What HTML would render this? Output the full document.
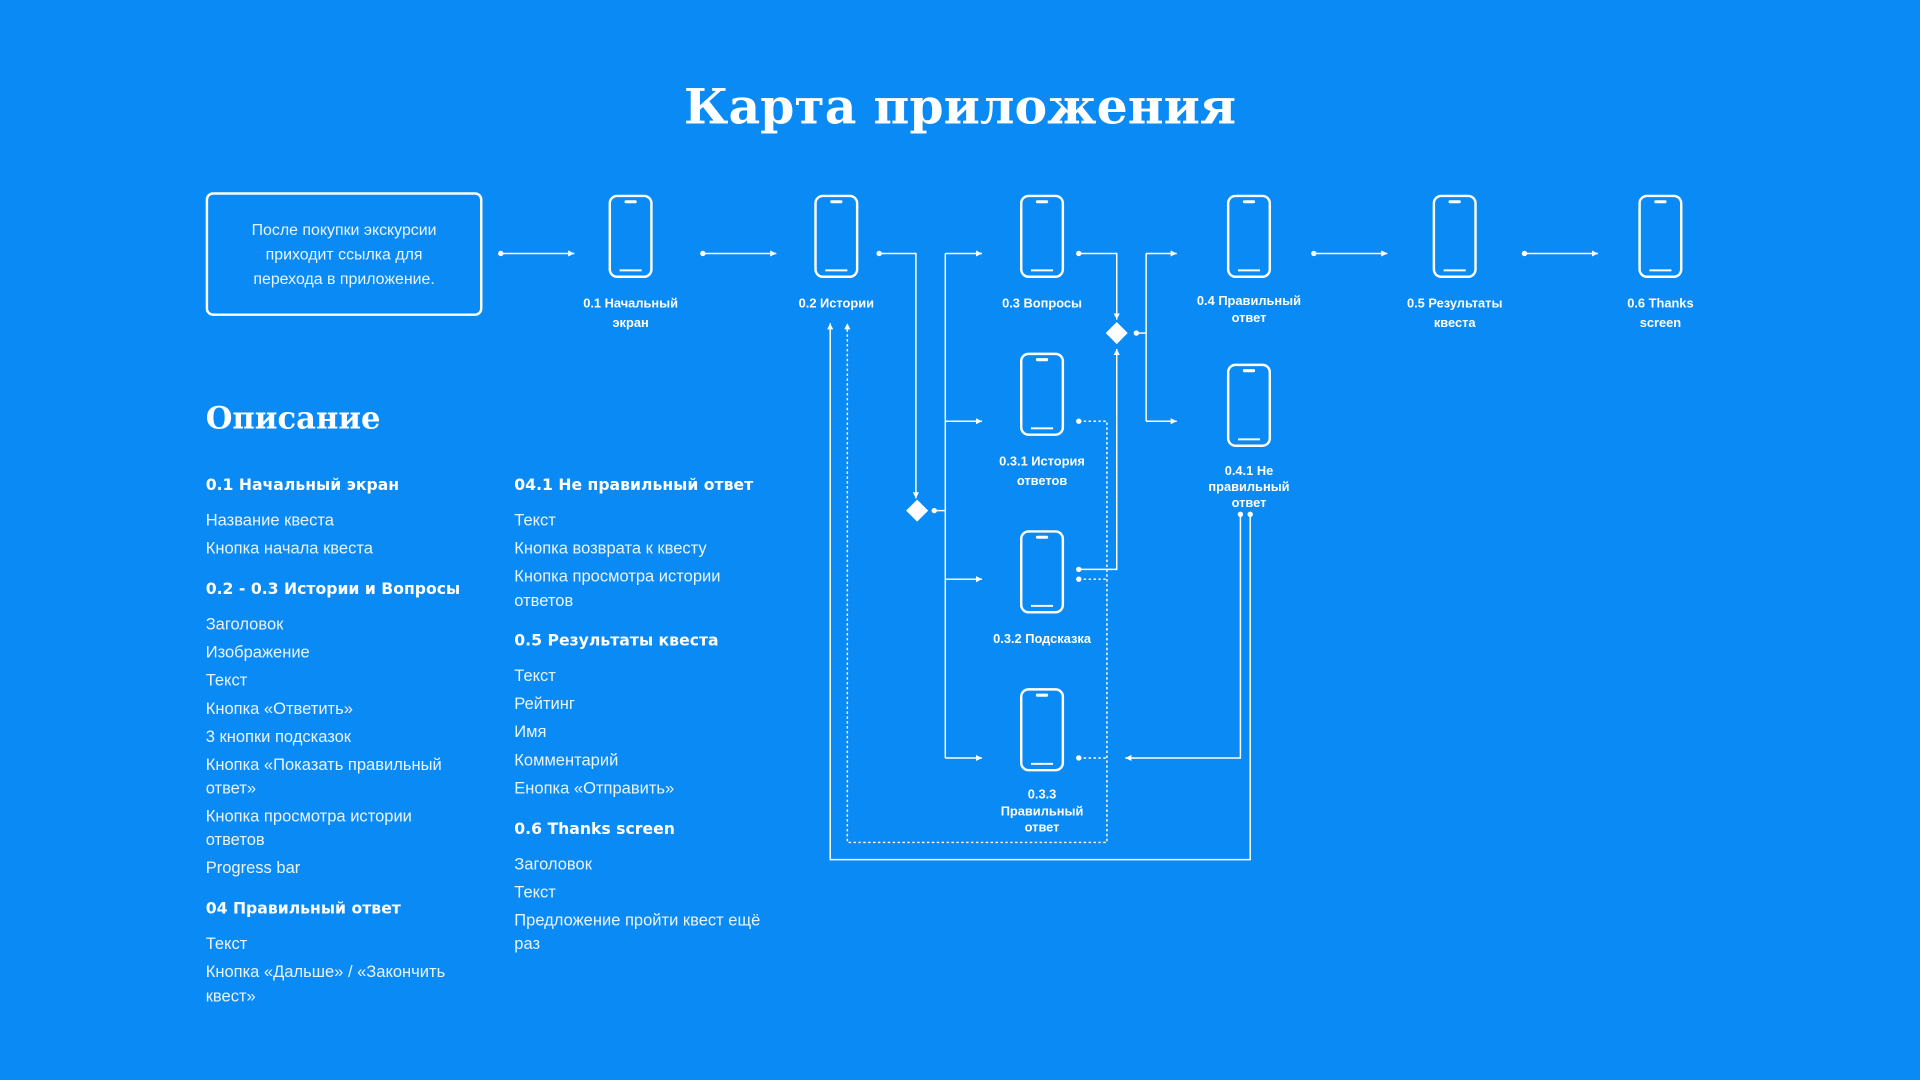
<!DOCTYPE html>
<html><head><meta charset="utf-8"><style>
html,body{margin:0;padding:0;background:#0a8af4;}
svg{display:block}
text{font-family:"Liberation Sans","DejaVu Sans",sans-serif;fill:#fff}
.t{font-size:13.5px;fill:#eaf4ff}
.h{font-size:12.8px;font-weight:bold;font-family:"DejaVu Sans",sans-serif}
.l{font-size:10.5px;font-weight:bold;text-anchor:middle}
.s{stroke:#fff;stroke-width:1.2;fill:none}
.d{stroke:#fff;stroke-width:1.2;fill:none;stroke-dasharray:2 2}
</style></head><body>
<svg width="1920" height="1080" viewBox="0 0 1568 882" xmlns="http://www.w3.org/2000/svg">
<rect width="1568" height="882" fill="#0a8af4"/>
<defs>
<marker id="a" markerWidth="6" markerHeight="6" refX="5" refY="3" orient="auto" markerUnits="userSpaceOnUse"><path d="M0,0.5 L5,3 L0,5.5z" fill="#fff"/></marker>
<g id="p"><rect x="-17" y="0" width="34" height="66" rx="6" fill="none" stroke="#fff" stroke-width="2"/><rect x="-5" y="3.5" width="10" height="2.5" rx="1" fill="#fff"/><rect x="-9" y="60" width="18" height="1.6" fill="#fff"/></g>
</defs>
<text x="784" y="101" text-anchor="middle" style="font-family:'DejaVu Serif',serif;font-size:40px;font-weight:bold">Карта приложения</text>

<rect x="169" y="158" width="224" height="99" rx="5" fill="none" stroke="#fff" stroke-width="2"/>
<text x="281" y="192" class="t" text-anchor="middle" style="font-size:13px">После покупки экскурсии</text>
<text x="281" y="212" class="t" text-anchor="middle" style="font-size:13px">приходит ссылка для</text>
<text x="281" y="232" class="t" text-anchor="middle" style="font-size:13px">перехода в приложение.</text>

<use href="#p" x="515" y="160"/><use href="#p" x="683" y="160"/><use href="#p" x="851" y="160"/>
<use href="#p" x="1020" y="160"/><use href="#p" x="1188" y="160"/><use href="#p" x="1356" y="160"/>
<use href="#p" x="851" y="289"/><use href="#p" x="851" y="434"/><use href="#p" x="851" y="563"/>
<use href="#p" x="1020" y="298"/>

<text x="515" y="251" class="l">0.1 Начальный</text><text x="515" y="267" class="l">экран</text>
<text x="683" y="251" class="l">0.2 Истории</text>
<text x="851" y="251" class="l">0.3 Вопросы</text>
<text x="1020" y="249" class="l">0.4 Правильный</text><text x="1020" y="263" class="l">ответ</text>
<text x="1188" y="251" class="l">0.5 Результаты</text><text x="1188" y="267" class="l">квеста</text>
<text x="1356" y="251" class="l">0.6 Thanks</text><text x="1356" y="267" class="l">screen</text>
<text x="851" y="380" class="l">0.3.1 История</text><text x="851" y="396" class="l">ответов</text>
<text x="851" y="525" class="l">0.3.2 Подсказка</text>
<text x="851" y="652" class="l">0.3.3</text><text x="851" y="666" class="l">Правильный</text><text x="851" y="679" class="l">ответ</text>
<text x="1020" y="388" class="l">0.4.1 Не</text><text x="1020" y="401" class="l">правильный</text><text x="1020" y="414" class="l">ответ</text>

<g fill="#fff">
<circle cx="409" cy="207" r="2.2"/><circle cx="574" cy="207" r="2.2"/><circle cx="1073" cy="207" r="2.2"/><circle cx="1245" cy="207" r="2.2"/>
<circle cx="718" cy="207" r="2.2"/><circle cx="763" cy="417" r="2.2"/><circle cx="881" cy="207" r="2.2"/><circle cx="928" cy="272" r="2.2"/>
<circle cx="881" cy="344" r="2.2"/><circle cx="881" cy="465" r="2.2"/><circle cx="881" cy="473" r="2.2"/><circle cx="881" cy="619" r="2.2"/>
<circle cx="1013" cy="420" r="2.2"/><circle cx="1021" cy="420" r="2.2"/>
<path d="M749,408 L758,417 L749,426 L740,417z"/><path d="M912,263 L921,272 L912,281 L903,272z"/>
</g>
<g class="s">
<path d="M409,207H469" marker-end="url(#a)"/><path d="M574,207H634" marker-end="url(#a)"/>
<path d="M1073,207H1133" marker-end="url(#a)"/><path d="M1245,207H1305" marker-end="url(#a)"/>
<path d="M718,207H748V407" marker-end="url(#a)"/>
<path d="M763,417H772"/><path d="M772,207V619"/>
<path d="M772,207H802" marker-end="url(#a)"/><path d="M772,344H802" marker-end="url(#a)"/>
<path d="M772,473H802" marker-end="url(#a)"/><path d="M772,619H802" marker-end="url(#a)"/>
<path d="M881,207H912V261" marker-end="url(#a)"/>
<path d="M881,465H912V285" marker-end="url(#a)"/>
<path d="M928,272H936"/><path d="M936,207V344"/>
<path d="M936,207H961" marker-end="url(#a)"/><path d="M936,344H961" marker-end="url(#a)"/>
<path d="M1013,420V619H919" marker-end="url(#a)"/>
<path d="M1021,420V702H678V264" marker-end="url(#a)"/>
</g>
<g class="d">
<path d="M881,344H904V688H692V266"/><path d="M881,473H904"/><path d="M881,619H904"/>
</g>
<path d="M692,264 l-2.5,5 h5z" fill="#fff"/>

<text x="168" y="350" style="font-family:'DejaVu Serif',serif;font-size:25px;font-weight:bold">Описание</text>
<g>
<text x="168" y="400" class="h">0.1 Начальный экран</text>
<text x="168" y="429" class="t">Название квеста</text>
<text x="168" y="452" class="t">Кнопка начала квеста</text>
<text x="168" y="485" class="h">0.2 - 0.3 Истории и Вопросы</text>
<text x="168" y="514" class="t">Заголовок</text>
<text x="168" y="537" class="t">Изображение</text>
<text x="168" y="560" class="t">Текст</text>
<text x="168" y="583" class="t">Кнопка «Ответить»</text>
<text x="168" y="606" class="t">3 кнопки подсказок</text>
<text x="168" y="629" class="t">Кнопка «Показать правильный</text>
<text x="168" y="648" class="t">ответ»</text>
<text x="168" y="671" class="t">Кнопка просмотра истории</text>
<text x="168" y="690" class="t">ответов</text>
<text x="168" y="713" class="t">Progress bar</text>
<text x="168" y="746" class="h">04 Правильный ответ</text>
<text x="168" y="775" class="t">Текст</text>
<text x="168" y="798" class="t">Кнопка «Дальше» / «Закончить</text>
<text x="168" y="818" class="t">квест»</text>

<text x="420" y="400" class="h">04.1 Не правильный ответ</text>
<text x="420" y="429" class="t">Текст</text>
<text x="420" y="452" class="t">Кнопка возврата к квесту</text>
<text x="420" y="475" class="t">Кнопка просмотра истории</text>
<text x="420" y="495" class="t">ответов</text>
<text x="420" y="527" class="h">0.5 Результаты квеста</text>
<text x="420" y="556" class="t">Текст</text>
<text x="420" y="579" class="t">Рейтинг</text>
<text x="420" y="602" class="t">Имя</text>
<text x="420" y="625" class="t">Комментарий</text>
<text x="420" y="648" class="t">Енопка «Отправить»</text>
<text x="420" y="681" class="h">0.6 Thanks screen</text>
<text x="420" y="710" class="t">Заголовок</text>
<text x="420" y="733" class="t">Текст</text>
<text x="420" y="756" class="t">Предложение пройти квест ещё</text>
<text x="420" y="775" class="t">раз</text>
</g>
</svg>
</body></html>
